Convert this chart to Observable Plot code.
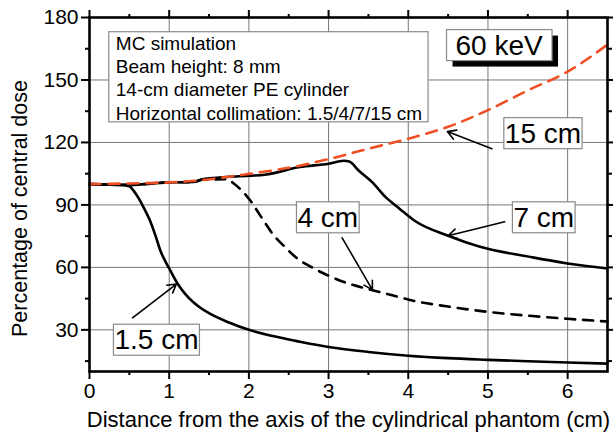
<!DOCTYPE html>
<html><head><meta charset="utf-8">
<script src="https://cdn.jsdelivr.net/npm/d3@7"></script>
<script src="https://cdn.jsdelivr.net/npm/@observablehq/plot@0.6"></script>
<style>
body{margin:0;background:#fff}
svg{font-family:"Liberation Sans",Arial,sans-serif}
</style>
</head><body><div id="chart"></div>
<script>
// ---- tick values ----
const xTicks = [0, 1, 2, 3, 4, 5, 6];
const xMinorTicks = [0.5, 1.5, 2.5, 3.5, 4.5, 5.5];
const yTicks = [30, 60, 90, 120, 150, 180];
const yMinorTicks = [15, 45, 75, 105, 135, 165];
const xGrid = [1, 2, 3, 4, 5, 6];
const yGrid = [30, 60, 90, 120, 150];
const xTitle = "Distance from the axis of the cylindrical phantom (cm)";
const yTitle = "Percentage of central dose";

// ---- series (distance cm, % of central dose) ----
const x15cm = [0, 0.5, 1.0, 1.43, 1.8, 2.0, 2.5, 3.0, 3.5, 4.0, 4.5, 5.0, 5.5, 6.0, 6.5];
const y15cm = [100, 100.3, 100.8, 102, 103.8, 104.9, 107.8, 112, 117, 121.8, 127.5, 135.5, 145, 154, 167];

const x7cm = [0, 0.5, 0.98, 1.3, 1.43, 2.0, 2.2, 2.64, 3.0, 3.19, 3.26, 3.38, 3.55, 3.72, 3.89, 4.08, 4.5, 4.9, 5.56, 6.0, 6.5];
const y7cm = [100, 99.6, 100.8, 101, 102.4, 104, 104.5, 108.2, 109.8, 111.2, 110.8, 106.4, 100.8, 93.6, 88.2, 82.4, 75.2, 69.9, 64.8, 61.9, 59.5];

const x4cm = [0, 0.5, 0.98, 1.3, 1.43, 1.73, 1.81, 2.02, 2.15, 2.3, 2.46, 2.6, 2.8, 3.0, 3.25, 3.5, 3.8, 4.06, 4.5, 4.98, 5.5, 6.0, 6.5];
const y4cm = [100, 99.6, 100.8, 101, 102.2, 102.3, 100.3, 92, 84.5, 76, 69.5, 64.5, 59.8, 56, 52.2, 49.6, 46.6, 44, 41.2, 38.7, 36.8, 35.3, 34];

const x1_5cm = [0, 0.2, 0.4, 0.5, 0.55, 0.62, 0.68, 0.76, 0.83, 0.89, 0.95, 1.0, 1.1, 1.2, 1.3, 1.4, 1.5, 1.75, 2.0, 2.3, 2.64, 3.0, 3.5, 4.0, 4.5, 5.0, 5.5, 6.0, 6.5];
const y1_5cm = [100, 99.8, 99.6, 99, 97, 93, 88.7, 82.4, 75, 68, 63, 59.5, 52.5, 47.3, 43.4, 40.4, 38, 33.5, 30, 27, 24.3, 21.8, 19.4, 17.6, 16.4, 15.6, 14.9, 14.3, 13.8];

// ---- annotations ----
const infoLines = ["MC simulation", "Beam height: 8 mm", "14-cm diameter PE cylinder", "Horizontal collimation: 1.5/4/7/15 cm"];
const infoPos = {x: 0.33, y: 172.5};
const energyLabel = {text: "60 keV", x: 5.14, y: 166.5};
const labelText = ["15 cm", "7 cm", "4 cm", "1.5 cm"];
const labelX = [5.69, 5.70, 2.99, 0.84];
const labelY = [124.2, 83.8, 83.8, 25.0];
const arrowX1 = [5.05, 5.21, 3.17, 0.54];
const arrowY1 = [117.0, 81.9, 74.2, 35.8];
const arrowX2 = [4.49, 4.50, 3.55, 1.09];
const arrowY2 = [125.2, 75.2, 49.2, 52.0];

const toRows = (xs, ys) => xs.map((x, i) => ({x, y: ys[i]}));
const labels = labelText.map((t, i) => ({text: t, x: labelX[i], y: labelY[i]}));
const arrows = labelText.map((t, i) => ({x1: arrowX1[i], y1: arrowY1[i], x2: arrowX2[i], y2: arrowY2[i]}));

const chart = Plot.plot({
  width: 613, height: 432,
  marginLeft: 89, marginRight: 6, marginTop: 17, marginBottom: 61,
  style: {fontFamily: "Liberation Sans, Arial, sans-serif", background: "white", color: "black", overflow: "visible"},
  x: {domain: [0, 6.5]},
  y: {domain: [10, 180]},
  marks: [
    Plot.gridX(xGrid, {stroke: "#777", strokeOpacity: 1, strokeWidth: 1}),
    Plot.gridY(yGrid, {stroke: "#777", strokeOpacity: 1, strokeWidth: 1}),
    Plot.line(toRows(x1_5cm, y1_5cm), {x: "x", y: "y", stroke: "black", strokeWidth: 2.6, curve: "monotone-x"}),
    Plot.line(toRows(x4cm, y4cm), {x: "x", y: "y", stroke: "black", strokeWidth: 2.6, strokeDasharray: "10,8", curve: "monotone-x"}),
    Plot.line(toRows(x7cm, y7cm), {x: "x", y: "y", stroke: "black", strokeWidth: 2.6, curve: "monotone-x"}),
    Plot.line(toRows(x15cm, y15cm), {x: "x", y: "y", stroke: "#f04e23", strokeWidth: 2.6, strokeDasharray: "11,8", curve: "monotone-x"}),
    Plot.text([infoLines.join("\n")], {x: () => infoPos.x, y: () => infoPos.y, text: d => d, textAnchor: "start", lineAnchor: "top", lineHeight: 1.23, fontSize: 19}),
    Plot.text([energyLabel], {x: "x", y: "y", text: "text", fontSize: 28}),
    Plot.text(labels, {x: "x", y: "y", text: "text", fontSize: 28}),
    Plot.arrow(arrows, {x1: "x1", y1: "y1", x2: "x2", y2: "y2", stroke: "black", strokeWidth: 1.6, headLength: 9}),
    Plot.frame({stroke: "black", strokeWidth: 2.6}),
    Plot.axisX(xTicks, {tickSize: 8, tickPadding: 4, fontSize: 21, strokeWidth: 2, label: null}),
    Plot.axisX(xMinorTicks, {tickSize: 4, strokeWidth: 2, text: null, label: null}),
    Plot.axisX(xTicks, {anchor: "top", tickSize: 8, strokeWidth: 2, text: null, label: null}),
    Plot.axisX(xMinorTicks, {anchor: "top", tickSize: 4, strokeWidth: 2, text: null, label: null}),
    Plot.axisY(yTicks, {tickSize: 8, tickPadding: 3, fontSize: 21, strokeWidth: 2, label: null}),
    Plot.axisY(yMinorTicks, {tickSize: 4, strokeWidth: 2, text: null, label: null}),
    Plot.axisY(yTicks, {anchor: "right", tickSize: 8, strokeWidth: 2, text: null, label: null}),
    Plot.axisY(yMinorTicks, {anchor: "right", tickSize: 4, strokeWidth: 2, text: null, label: null}),
    Plot.text([xTitle], {frameAnchor: "bottom", text: d => d, textAnchor: "middle", lineAnchor: "bottom", dy: 55, fontSize: 22}),
    Plot.text([yTitle], {frameAnchor: "left", text: d => d, textAnchor: "middle", rotate: -90, lineAnchor: "top", dx: -78, dy: 14, fontSize: 21.5})
  ]
});
document.getElementById("chart").appendChild(chart);

// draw boxes behind annotation texts
const textGroups = chart.querySelectorAll('g[aria-label="text"]');
const NS = "http://www.w3.org/2000/svg";
function boxText(g, pad, shadow) {
  g.querySelectorAll("text").forEach(t => {
    const b = t.getBBox();
    const tr = t.getAttribute("transform") || "";
    const mk = (dx, dy, fill, stroke) => {
      const r = document.createElementNS(NS, "rect");
      r.setAttribute("x", b.x - pad.l + dx);
      r.setAttribute("y", b.y - pad.t + dy);
      r.setAttribute("width", b.width + pad.l + pad.r);
      r.setAttribute("height", b.height + pad.t + pad.b);
      r.setAttribute("fill", fill);
      if (stroke) { r.setAttribute("stroke", stroke); r.setAttribute("stroke-width", 1.2); }
      if (tr) r.setAttribute("transform", tr);
      g.insertBefore(r, t);
    };
    if (shadow) mk(6, 6, "black", null);
    mk(0, 0, "white", "#8a8a8a");
  });
}
boxText(textGroups[0], {l: 7, r: 6, t: 1, b: -2}, false);
boxText(textGroups[1], {l: 9, r: 9, t: 0, b: 0}, true);
boxText(textGroups[2], {l: 1, r: 1, t: 0, b: 0}, false);
</script>
</body></html>
